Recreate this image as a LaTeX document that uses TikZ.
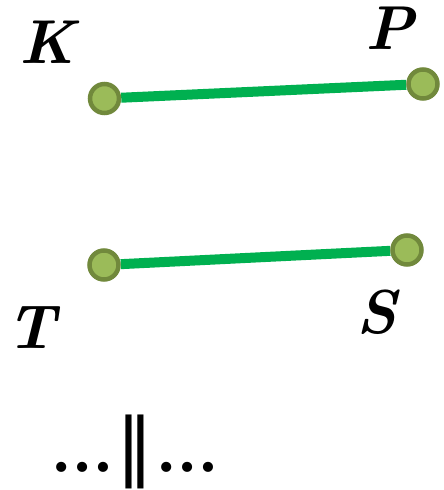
\documentclass[tikz,border=0pt]{standalone}
\usepackage{fontspec}
\newfontfamily\simbolos{DejaVu Sans}
\newfontfamily\puntos{Liberation Serif}
\usetikzlibrary{positioning, backgrounds}
\definecolor{Segverde}{RGB}{0,176,80}
\definecolor{Ptorelleno}{RGB}{155,187,89}
\definecolor{Ptoborde}{RGB}{113,137,60}

\begin{document}
\begin{tikzpicture}[
  x=1pt, y=1pt,
  pto/.style={circle, draw=Ptoborde, fill=Ptorelleno, line width=4.5pt,
              minimum size=29pt, inner sep=0pt},
  seg/.style={draw=Segverde, line width=10pt},
  lbl/.style={font=\fontsize{62}{64}\selectfont\bfseries\itshape, inner sep=0pt},
  rel/.style={font=\fontsize{62}{70}\puntos\bfseries, inner sep=0pt}
]
\useasboundingbox (0,0) rectangle (444,490);

%% ─── Segmento KP ───────────────────────────────────────────
\node[pto] (K) at (104.5,391.5) {};
\node[pto] (P) at (423,406)     {};
\node[lbl] (lK) at (47,448)  {K};
\node[lbl] (lP) at (390,462) {P};

%% ─── Segmento TS ───────────────────────────────────────────
\node[pto] (T) at (104,225) {};
\node[pto] (S) at (407,240) {};
\node[lbl] (lT) at (31,162)  {T};
\node[lbl] (lS) at (377,178) {S};

%% ─── Relación ──────────────────────────────────────────────
\node[rel, anchor=base] (r) at (134.5,19)
  {…\hspace{3pt}{\simbolos\fontsize{74}{74}\selectfont\mdseries ‖}\hspace{3pt}…};

%% ─── Segmentos (detrás de los puntos) ───────────────────────
\begin{pgfonlayer}{background}
  \draw[seg] (K) -- (P);
  \draw[seg] (T) -- (S);
\end{pgfonlayer}
\end{tikzpicture}
\end{document}
